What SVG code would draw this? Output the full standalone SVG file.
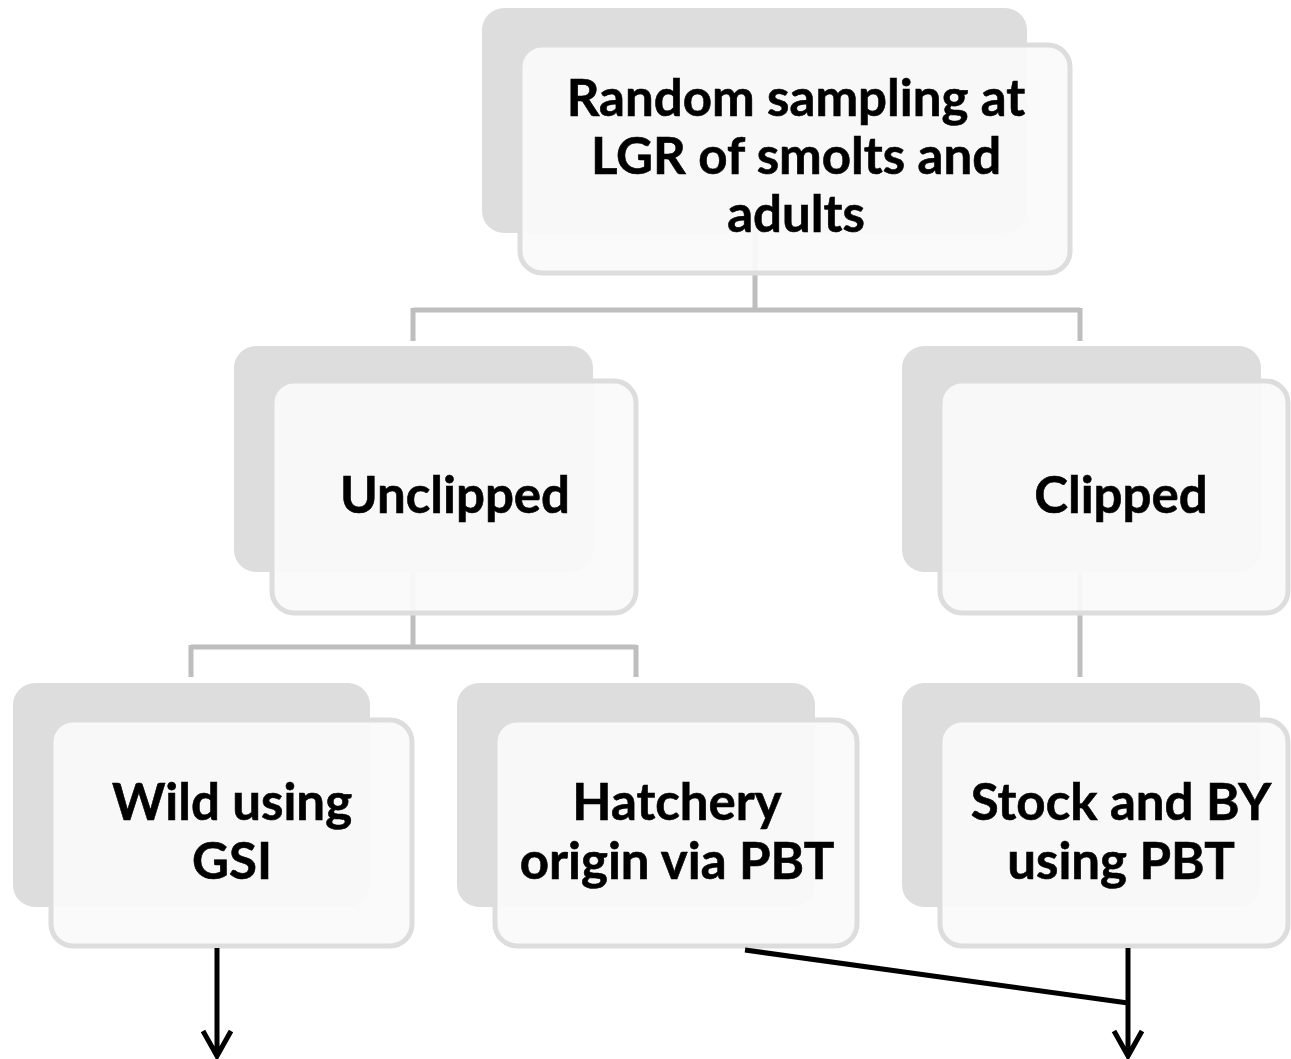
<svg xmlns="http://www.w3.org/2000/svg" width="1291" height="1059" viewBox="0 0 1291 1059">
<style>
.back{fill:#dddddd;}
.front{fill:#fafafa;fill-opacity:0.94;stroke:#dddddd;stroke-width:5;}
.conn{fill:none;stroke:#bebebe;stroke-width:5;}
.arrow{fill:none;stroke:#000;stroke-width:5;}
text{font-family:Lato,"Liberation Sans",sans-serif;font-weight:700;font-size:51px;fill:#000;stroke:#000;stroke-width:0.6;text-anchor:middle;}
</style>
<rect width="1291" height="1059" fill="#ffffff"/>
<g id="connectors">
<path class="conn" d="M755,233 V310 M413,310 H1080 M413,308 V341 M1080,308 V341"/>
<path class="conn" d="M413,572 V647 M191,647 H636 M191,645 V677 M636,645 V677"/>
<path class="conn" d="M1080,572 V677"/>
</g>
<g id="node-top">
<rect class="back" x="482" y="8" width="545" height="225" rx="22"/>
<rect class="front" x="520" y="45" width="550" height="228" rx="22"/>
<text x="796" y="116">Random sampling at</text>
<text x="796" y="174">LGR of smolts and</text>
<text x="796" y="232">adults</text>
</g>
<g id="node-unclipped">
<rect class="back" x="234" y="346" width="359" height="226" rx="22"/>
<rect class="front" x="272" y="381" width="364" height="232" rx="22"/>
<text x="455" y="513">Unclipped</text>
</g>
<g id="node-clipped">
<rect class="back" x="902" y="346" width="359" height="226" rx="22"/>
<rect class="front" x="940" y="381" width="348" height="232" rx="22"/>
<text x="1121" y="513">Clipped</text>
</g>
<g id="node-wild">
<rect class="back" x="13" y="683" width="357" height="224" rx="22"/>
<rect class="front" x="51" y="720" width="361" height="226" rx="22"/>
<text x="232" y="820">Wild using</text>
<text x="232" y="879">GSI</text>
</g>
<g id="node-hatchery">
<rect class="back" x="457" y="683" width="358" height="224" rx="22"/>
<rect class="front" x="495" y="720" width="362" height="226" rx="22"/>
<text x="677" y="820">Hatchery</text>
<text x="677" y="879">origin via PBT</text>
</g>
<g id="node-stock">
<rect class="back" x="902" y="683" width="358" height="224" rx="22"/>
<rect class="front" x="940" y="720" width="348" height="226" rx="22"/>
<text x="1121" y="820">Stock and BY</text>
<text x="1121" y="879">using PBT</text>
</g>
<g id="arrows">
<path class="arrow" d="M217,948 V1055 M203,1031 L217,1056 L231,1031"/>
<path class="arrow" d="M1128,948 V1055 M1114,1031 L1128,1056 L1142,1031"/>
<path class="arrow" d="M745,950 L1128,1003"/>
</g>
</svg>
